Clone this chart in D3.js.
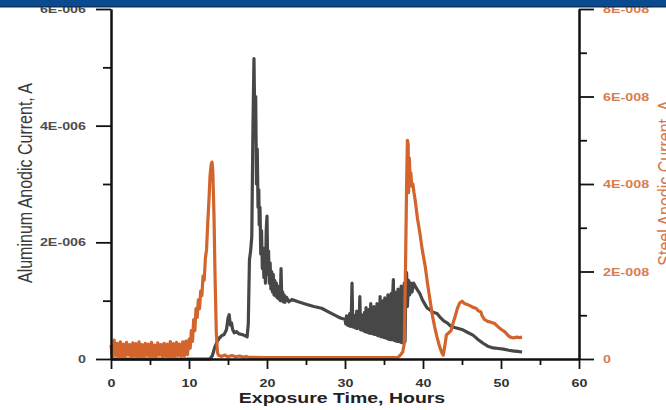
<!DOCTYPE html>
<html>
<head>
<meta charset="utf-8">
<script src="https://cdn.jsdelivr.net/npm/d3@7"></script>
<style>
  body { margin: 0; background: #fff; }
  svg { display: block; font-family: "Liberation Sans", Arial, sans-serif; }
</style>
</head>
<body>
<div class="D3"></div>
<script>
// axis ticks and labels
var xMajorTicks = [0, 10, 20, 30, 40, 50, 60];
var xMinorTicks = [5, 15, 25, 35, 45, 55];
var alMajorTicks = [0, 2, 4, 6];          // microamps
var alMinorTicks = [1, 3, 5];
var alTickLabels = ["0", "2E-006", "4E-006", "6E-006"];
var stMajorTicks = [0, 20, 40, 60, 80];   // nanoamps
var stMinorTicks = [10, 30, 50, 70];
var stTickLabels = ["0", "2E-008", "4E-008", "6E-008", "8E-008"];

// aluminum anodic current: [hours, microamps]
var aluminumSeries = [
  [0, 0], [12.7, 0], [13.0, 0.06], [13.3, 0.2], [13.6, 0.3], [13.9, 0.36], [14.2, 0.4], [14.5, 0.42],
  [14.8, 0.5], [15.0, 0.7], [15.15, 0.76], [15.3, 0.58], [15.45, 0.62], [15.6, 0.5], [15.8, 0.45],
  [16.1, 0.47], [16.4, 0.43], [16.8, 0.42], [17.2, 0.4], [17.45, 0.38], [17.6, 0.6], [17.75, 1.7],
  [17.9, 1.85], [18.05, 2.1], [18.2, 4.0], [18.33, 5.15], [18.45, 3.9], [18.55, 4.5], [18.65, 3.0],
  [18.75, 3.6], [18.85, 2.6], [18.95, 2.9],
  [19.0, 2.3], [19.1, 2.6], [19.2, 1.8], [19.3, 2.2], [19.4, 1.55], [19.5, 1.9], [19.6, 1.4], [19.7, 1.75],
  [19.8, 1.3], [19.9, 2.2], [20.0, 2.45], [20.1, 1.45], [20.2, 1.85], [20.3, 1.3], [20.4, 1.65], [20.5, 1.2],
  [20.6, 1.5], [20.7, 1.15], [20.8, 1.45], [20.9, 1.1], [21.0, 1.35], [21.1, 1.08], [21.2, 1.3], [21.3, 1.05],
  [21.4, 1.25], [21.5, 1.03], [21.6, 1.2], [21.7, 1.0], [21.8, 1.55], [21.9, 1.0], [22.0, 1.15], [22.1, 0.98],
  [22.2, 1.1], [22.3, 0.97], [22.5, 1.06], [22.8, 0.98], [23.2, 1.02], [24, 0.98], [25, 0.94],
  [26, 0.9], [27, 0.87], [28, 0.8], [29, 0.73], [29.5, 0.7],
  [30.0, 0.68], [30.1, 0.6], [30.2, 0.74], [30.3, 0.58], [30.4, 0.72], [30.5, 0.57], [30.6, 0.78], [30.7, 0.56],
  [30.8, 0.7], [30.9, 1.3], [31.0, 0.55], [31.1, 0.72], [31.2, 0.54], [31.3, 0.75], [31.4, 0.53], [31.5, 0.82],
  [31.6, 0.52], [31.7, 0.7], [31.8, 0.55], [31.9, 1.07], [32.0, 0.5], [32.1, 0.76], [32.2, 0.5], [32.3, 0.7],
  [32.4, 0.48], [32.5, 0.8], [32.6, 0.47], [32.7, 0.88], [32.8, 0.46], [32.9, 0.72], [33.0, 0.45], [33.1, 0.85],
  [33.2, 0.44], [33.3, 0.95], [33.4, 0.44], [33.5, 0.78], [33.6, 0.43], [33.7, 0.9], [33.8, 0.42], [33.9, 0.85],
  [34.0, 0.42], [34.1, 0.95], [34.2, 0.4], [34.3, 0.88], [34.4, 0.4], [34.5, 1.07], [34.6, 0.38], [34.7, 0.98],
  [34.8, 0.38], [34.9, 1.0], [35.0, 0.37], [35.1, 1.05], [35.2, 0.36], [35.3, 0.95], [35.4, 0.35], [35.5, 1.1],
  [35.6, 0.34], [35.7, 1.02], [35.8, 0.33], [35.9, 1.12], [36.0, 0.33], [36.1, 1.05], [36.2, 1.36], [36.3, 0.32],
  [36.4, 1.15], [36.5, 0.31], [36.6, 1.1], [36.7, 0.3], [36.8, 1.2], [36.9, 0.3], [37.0, 1.15], [37.1, 0.29],
  [37.2, 1.25], [37.3, 0.28], [37.4, 1.2], [37.5, 0.28], [37.6, 1.3], [37.7, 0.3], [37.8, 1.25], [37.9, 1.48],
  [38.0, 0.9], [38.15, 1.35], [38.3, 1.1], [38.45, 1.3], [38.6, 1.15], [38.8, 1.3], [39.0, 1.25], [39.3, 1.18],
  [39.6, 1.12], [39.9, 1.02], [40.2, 0.95], [40.5, 0.88], [40.9, 0.84], [41.3, 0.8], [41.8, 0.78],
  [42.3, 0.7], [42.7, 0.65], [43.1, 0.62], [43.5, 0.57], [43.8, 0.55], [44.3, 0.53], [45.1, 0.5],
  [45.8, 0.45], [46.4, 0.41], [47.0, 0.34], [47.7, 0.27], [48.3, 0.22], [49.0, 0.19], [49.7, 0.18],
  [50.3, 0.17], [51.0, 0.15], [51.5, 0.14], [52.1, 0.13], [52.7, 0.12]
];

// steel anodic current: [hours, nanoamps]
var steelSeries = [
  [0.0, 3.2], [0.2, 0.4], [0.4, 4.3], [0.6, 0.8], [0.8, 3.6], [1.0, 0.3], [1.2, 3.9], [1.4, 0.6],
  [1.6, 3.4], [1.8, 0.5], [2.0, 3.8], [2.2, 0.9], [2.4, 3.3], [2.6, 0.4], [2.8, 3.7], [3.0, 0.7],
  [3.2, 3.5], [3.4, 0.3], [3.6, 3.9], [3.8, 0.6], [4.0, 3.3], [4.2, 0.5], [4.4, 3.6], [4.6, 0.8],
  [4.8, 3.4], [5.0, 0.4], [5.2, 3.8], [5.4, 0.6], [5.6, 3.2], [5.8, 0.5], [6.0, 3.7], [6.2, 0.9],
  [6.4, 3.3], [6.6, 0.4], [6.8, 3.6], [7.0, 0.7], [7.2, 3.4], [7.4, 0.3], [7.6, 4.0], [7.8, 0.6],
  [8.0, 3.5], [8.2, 0.5], [8.4, 3.8], [8.6, 0.8], [8.8, 3.4], [9.0, 0.6], [9.2, 3.9], [9.4, 0.7],
  [9.6, 4.1], [9.8, 1.0], [10.0, 4.5], [10.15, 2.5], [10.3, 6.5], [10.45, 4.0], [10.6, 9.0],
  [10.75, 6.5], [10.9, 11.5], [11.05, 9.5], [11.2, 13.5], [11.35, 11.5], [11.5, 15.5], [11.65, 14.5],
  [11.8, 19], [11.95, 18], [12.1, 23], [12.25, 25], [12.4, 31], [12.55, 36], [12.7, 42], [12.85, 44.5],
  [12.95, 45], [13.05, 43], [13.2, 33], [13.35, 18], [13.5, 6], [13.65, 1.5], [13.8, 0.8], [14.2, 0.6],
  [14.6, 0.9], [15.0, 0.5], [15.5, 0.8], [16.0, 0.5], [16.5, 0.7], [17.0, 0.4], [17.3, 0.6], [17.6, 0.4],
  [20, 0.3], [25, 0.3], [30, 0.3], [35, 0.3], [36.8, 0.4], [37.1, 0.9], [37.4, 1.6], [37.6, 3.5],
  [37.75, 20], [37.9, 40], [38.0, 50], [38.1, 49], [38.15, 38], [38.25, 46], [38.35, 41], [38.45, 42.5],
  [38.55, 39.5], [38.7, 40], [38.85, 38], [39.0, 36.3], [39.3, 32], [39.6, 28.8], [39.9, 25], [40.3, 21],
  [40.6, 17], [40.9, 13.5], [41.2, 10], [41.5, 7.3], [41.8, 5], [42.1, 3], [42.4, 1.5], [42.6, 0.9],
  [42.8, 3.0], [43.0, 5.5], [43.3, 6.0], [43.6, 6.5], [43.9, 8.5], [44.1, 9.6], [44.4, 11.5], [44.7, 12.8],
  [45.0, 13.2], [45.3, 12.7], [45.6, 12.5], [46.0, 12.2], [46.4, 11.8], [46.8, 11.6], [47.1, 11.0],
  [47.4, 10.8], [47.6, 9.8], [47.9, 9.0], [48.3, 8.6], [48.7, 8.4], [49.2, 8.1], [49.6, 7.4], [50.0, 6.8],
  [50.5, 6.2], [50.9, 5.4], [51.2, 5.0], [51.6, 4.8], [52.0, 5.0], [52.4, 4.9], [52.7, 5.0]
];

var svgWidth = 666;
var svgHeight = 410;
var margin = { top: 9, right: 87, bottom: 51, left: 111 };
var chartWidth = svgWidth - margin.left - margin.right;
var chartHeight = svgHeight - margin.top - margin.bottom;
var stretch = 1.3; // the source picture is squeezed wider than tall

var svg = d3.select(".D3").append("svg")
  .attr("width", svgWidth)
  .attr("height", svgHeight);

var chartGroup = svg.append("g")
  .attr("transform", `translate(${margin.left}, ${margin.top})`);

var xScale = d3.scaleLinear().domain([0, 60]).range([0, chartWidth]);
var yAl = d3.scaleLinear().domain([0, 6]).range([chartHeight, 0]);
var ySt = d3.scaleLinear().domain([0, 80]).range([chartHeight, 0]);

// data lines (axes go on top so the baseline stays black)
var alLine = d3.line().x(d => xScale(d[0])).y(d => yAl(d[1]));
var stLine = d3.line().x(d => xScale(d[0])).y(d => ySt(d[1]));

chartGroup.append("path")
  .datum(aluminumSeries)
  .attr("d", alLine)
  .attr("fill", "none")
  .attr("stroke", "#474747")
  .attr("stroke-width", 3.2)
  .attr("stroke-linejoin", "round");

chartGroup.append("path")
  .datum(steelSeries)
  .attr("d", stLine)
  .attr("fill", "none")
  .attr("stroke", "#d2642c")
  .attr("stroke-width", 3.2)
  .attr("stroke-linejoin", "round");

function styleAxis(g) {
  g.select(".domain").attr("stroke", "#111").attr("stroke-width", 2);
  g.selectAll(".tick line").attr("stroke", "#111").attr("stroke-width", 1.8);
}

// x axis
var xMinor = chartGroup.append("g")
  .attr("transform", `translate(0, ${chartHeight})`)
  .call(d3.axisBottom(xScale).tickValues(xMinorTicks).tickSize(6).tickSizeOuter(0).tickFormat(""));
styleAxis(xMinor);

var xAxis = chartGroup.append("g")
  .attr("transform", `translate(0, ${chartHeight})`)
  .call(d3.axisBottom(xScale).tickValues(xMajorTicks).tickSize(10).tickPadding(10).tickSizeOuter(0));
styleAxis(xAxis);
xAxis.selectAll(".tick text")
  .attr("transform", `scale(${stretch},1)`)
  .attr("font-size", 11)
  .attr("font-weight", "bold")
  .attr("fill", "#333");

// left axis, aluminum
var leftMinor = chartGroup.append("g")
  .call(d3.axisLeft(yAl).tickValues(alMinorTicks).tickSize(8).tickSizeOuter(0).tickFormat(""));
styleAxis(leftMinor);

var leftAxis = chartGroup.append("g")
  .call(d3.axisLeft(yAl).tickValues(alMajorTicks).tickSize(15).tickSizeOuter(0)
    .tickFormat((d, i) => alTickLabels[i]));
styleAxis(leftAxis);
leftAxis.selectAll(".tick text")
  .attr("x", 0)
  .attr("transform", `translate(-25,0) scale(${stretch},1)`)
  .attr("font-size", 11)
  .attr("font-weight", "bold")
  .attr("fill", "#4d4d4d");

// right axis, steel
var rightMinor = chartGroup.append("g")
  .attr("transform", `translate(${chartWidth}, 0)`)
  .call(d3.axisRight(ySt).tickValues(stMinorTicks).tickSize(8).tickSizeOuter(0).tickFormat(""));
styleAxis(rightMinor);

var rightAxis = chartGroup.append("g")
  .attr("transform", `translate(${chartWidth}, 0)`)
  .call(d3.axisRight(ySt).tickValues(stMajorTicks).tickSize(15).tickSizeOuter(0)
    .tickFormat((d, i) => stTickLabels[i]));
styleAxis(rightAxis);
rightAxis.selectAll(".tick text")
  .attr("x", 0)
  .attr("transform", `translate(24,0) scale(${stretch},1)`)
  .attr("font-size", 11)
  .attr("font-weight", "bold")
  .attr("fill", "#d67e50");

// axis titles
svg.append("text")
  .attr("transform", `translate(342, 403) scale(${stretch},1)`)
  .attr("text-anchor", "middle")
  .attr("font-size", 15)
  .attr("font-weight", "bold")
  .attr("fill", "#222")
  .text("Exposure Time, Hours");

svg.append("text")
  .attr("transform", `translate(32, 183) scale(${stretch},1) rotate(-90)`)
  .attr("text-anchor", "middle")
  .attr("font-size", 16)
  .attr("fill", "#3a3a3a")
  .text("Aluminum Anodic Current, A");

// runs off the right edge, as in the source slide
svg.append("text")
  .attr("transform", `translate(672, 183) scale(${stretch},1) rotate(-90)`)
  .attr("text-anchor", "middle")
  .attr("font-size", 16)
  .attr("fill", "#d4784a")
  .text("Steel Anodic Current, A");

// slide header band across the top
svg.append("rect")
  .attr("x", 0).attr("y", 0)
  .attr("width", svgWidth).attr("height", 7)
  .attr("fill", "#0a4b8f");
svg.append("rect")
  .attr("x", 0).attr("y", 6)
  .attr("width", svgWidth).attr("height", 1.5)
  .attr("fill", "#08325f");
</script>
</body>
</html>
